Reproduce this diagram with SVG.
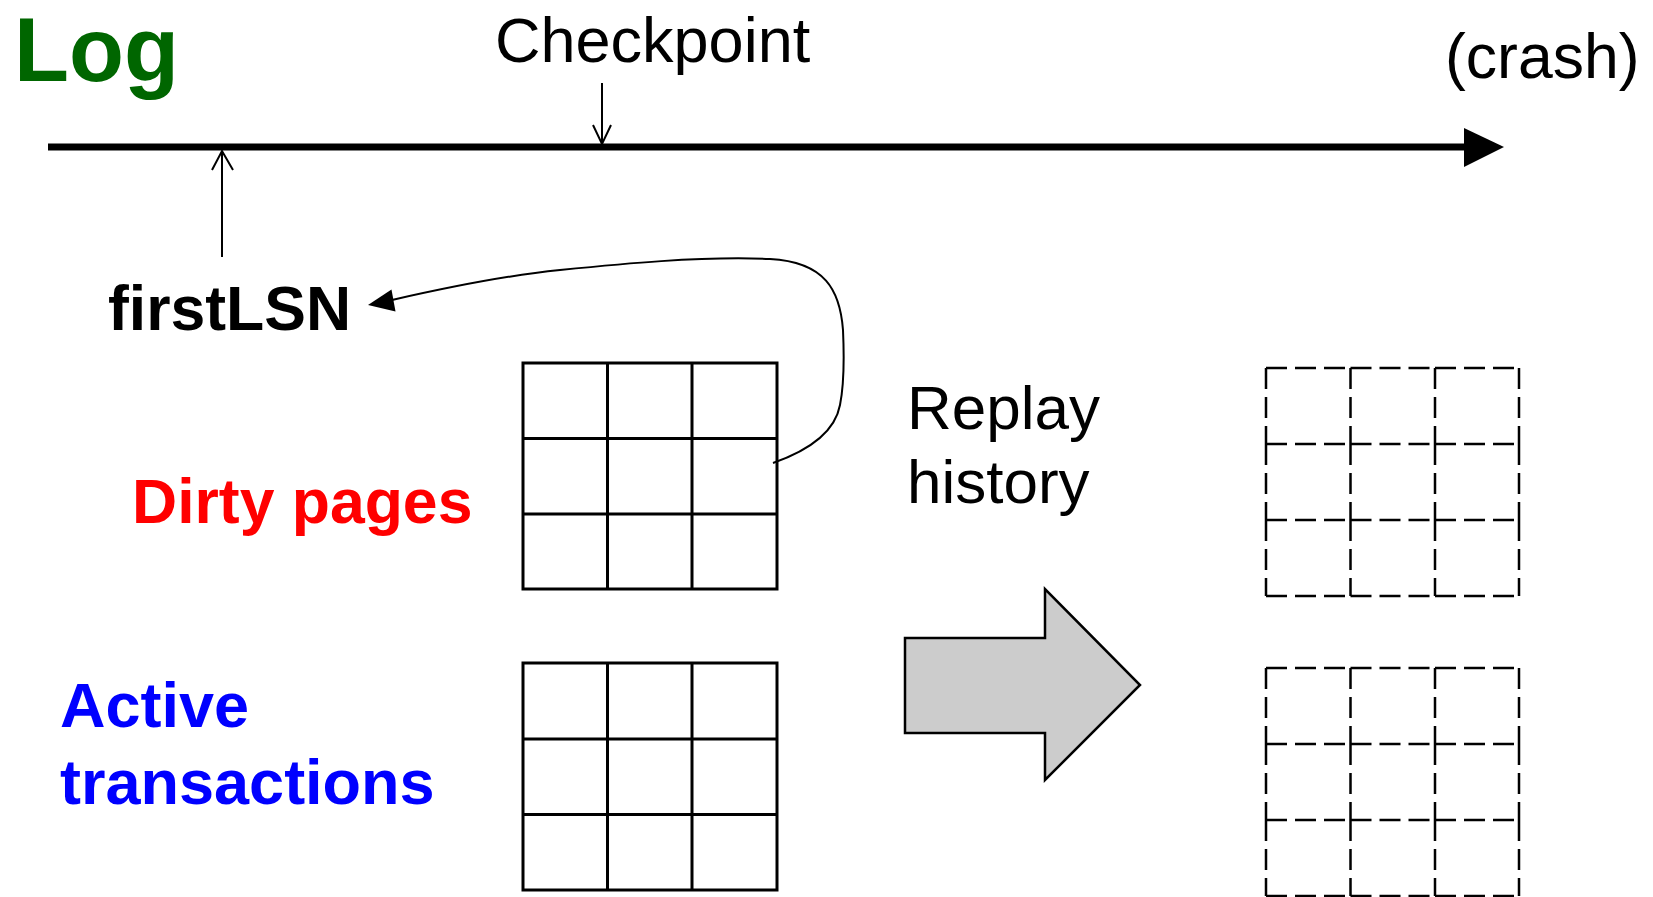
<svg xmlns="http://www.w3.org/2000/svg" width="1653" height="897" viewBox="0 0 1653 897">
<style>
.t{font-family:"Liberation Sans",Arial,sans-serif;}
.b{font-weight:bold;}
.grid{fill:none;stroke:#000;stroke-width:3;}
.dgrid{fill:none;stroke:#000;stroke-width:2.5;stroke-dasharray:21 8;}
.thin{fill:none;stroke:#000;stroke-width:2;}
</style>
<rect width="1653" height="897" fill="#fff"/>
<g id="log-label"><text class="t b" x="14" y="81" font-size="90" fill="#006600">Log</text></g>
<g id="checkpoint-label"><text class="t" x="495" y="62" font-size="63" fill="#000">Checkpoint</text></g>
<g id="crash-label"><text class="t" x="1445" y="78" font-size="62.5" fill="#000">(crash)</text></g>
<g id="timeline">
<line x1="48" y1="147" x2="1466" y2="147" stroke="#000" stroke-width="7"/>
<polygon points="1464,128 1504,147 1464,167" fill="#000"/>
</g>
<g id="firstLSN-label"><text class="t b" x="108" y="330" font-size="62.5" fill="#000">firstLSN</text></g>
<g id="dirty-label"><text class="t b" x="132" y="523" font-size="62.5" fill="#ff0000">Dirty pages</text></g>
<g id="active-label"><text class="t b" font-size="63" fill="#0000ff"><tspan x="60" y="727">Active</tspan><tspan x="60" y="804">transactions</tspan></text></g>
<g id="replay-label"><text class="t" font-size="62" fill="#000"><tspan x="907" y="429">Replay</tspan><tspan x="907" y="503">history</tspan></text></g>
<g id="dirty-grid">
<rect class="grid" x="523" y="363" width="254" height="226"/>
<path class="grid" d="M607.5 363V589M692 363V589M523 438.5H777M523 514H777"/>
</g>
<g id="active-grid">
<rect class="grid" x="523" y="663" width="254" height="227"/>
<path class="grid" d="M607.5 663V890M692 663V890M523 739H777M523 814.5H777"/>
</g>
<g id="replay-arrow">
<polygon points="905,638 1045,638 1045,589 1140,685 1045,780 1045,733 905,733" fill="#cccccc" stroke="#000" stroke-width="2.5" stroke-linejoin="miter"/>
</g>
<g id="dirty-grid-replayed">
<path class="dgrid" d="M1266 368H1350.5M1350.5 368H1435M1435 368H1519M1266 444H1350.5M1350.5 444H1435M1435 444H1519M1266 520H1350.5M1350.5 520H1435M1435 520H1519M1266 596H1350.5M1350.5 596H1435M1435 596H1519M1266 368V444M1266 444V520M1266 520V596M1350.5 368V444M1350.5 444V520M1350.5 520V596M1435 368V444M1435 444V520M1435 520V596M1519 368V444M1519 444V520M1519 520V596"/>
</g>
<g id="active-grid-replayed">
<path class="dgrid" d="M1266 668H1350.5M1350.5 668H1435M1435 668H1519M1266 744H1350.5M1350.5 744H1435M1435 744H1519M1266 820H1350.5M1350.5 820H1435M1435 820H1519M1266 896H1350.5M1350.5 896H1435M1435 896H1519M1266 668V744M1266 744V820M1266 820V896M1350.5 668V744M1350.5 744V820M1350.5 820V896M1435 668V744M1435 744V820M1435 820V896M1519 668V744M1519 744V820M1519 820V896"/>
</g>
<g id="connectors">
<path class="thin" d="M602 83V144M593 125L602 144L611 125"/>
<path class="thin" d="M222 257V152M212 170L222 151L233 170"/>
<path class="thin" d="M773 463C810 450 835 432 840 405C845 380 844 352 843 330C840 290 825 262 770 259C700 256 620 264 560 270C500 276 440 289 392 300"/>
<polygon points="368,305 391.5,289.5 395.5,311.5" fill="#000"/>
</g>
</svg>
